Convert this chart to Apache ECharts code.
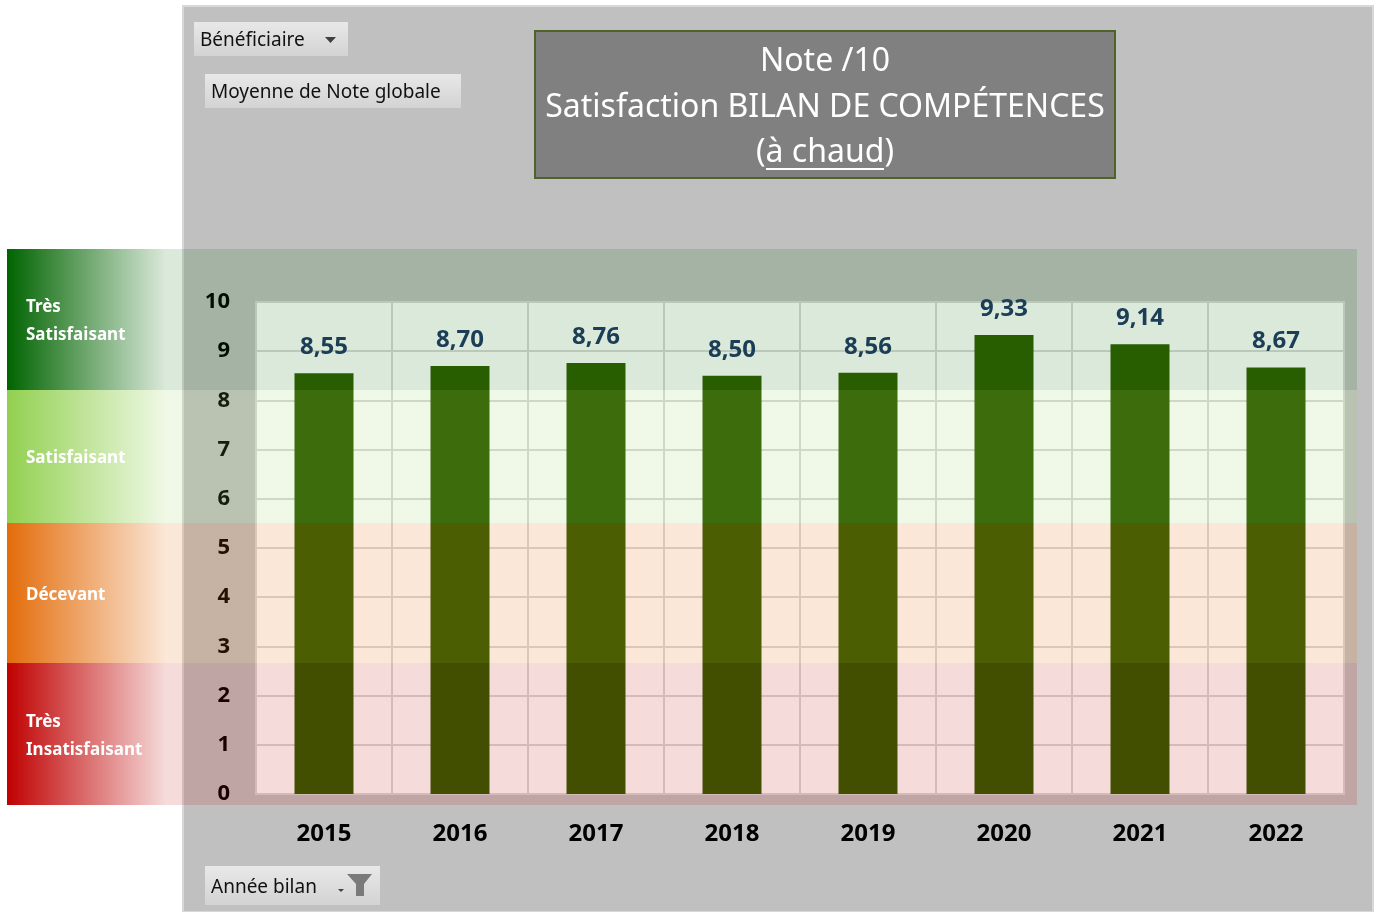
<!DOCTYPE html>
<html>
<head>
<meta charset="utf-8">
<script src="https://cdn.jsdelivr.net/npm/echarts@6/dist/echarts.min.js"></script>
<style>
  html, body { margin: 0; padding: 0; background: #fff; }
  #chart { width: 1381px; height: 912px; }
</style>
</head>
<body>
<div id="chart"></div>
<script>
// données
const years = ['2015', '2016', '2017', '2018', '2019', '2020', '2021', '2022'];
const notes = [8.55, 8.70, 8.76, 8.50, 8.56, 9.33, 9.14, 8.67];
const titleLines = ['Note /10', 'Satisfaction BILAN DE COMPÉTENCES', '(à chaud)'];
const bandLabels = [['Très', 'Satisfaisant'], ['Satisfaisant'], ['Décevant'], ['Très', 'Insatisfaisant']];

const FONT = '"Noto Sans", "DejaVu Sans", sans-serif';

// bandes de couleur (décor)
const bandStyle = [
  { y0: 249, y1: 390, rgb: '0,100,0', a: 0.14 },
  { y0: 390, y1: 523, rgb: '146,208,80', a: 0.14 },
  { y0: 523, y1: 663, rgb: '227,108,10', a: 0.16 },
  { y0: 663, y1: 805, rgb: '192,0,0', a: 0.14 }
];

const graphics = [];
// fond gris du graphique
graphics.push({
  type: 'rect', z: -10,
  shape: { x: 183, y: 6, width: 1190, height: 906 },
  style: { fill: '#c0c0c0', stroke: '#d8d8d8', lineWidth: 2 }
});

function button(x, y, w, h, label) {
  graphics.push({
    type: 'rect', z: 5,
    shape: { x, y, width: w, height: h },
    style: {
      fill: { type: 'linear', x: 0, y: 0, x2: 0, y2: 1,
        colorStops: [{ offset: 0, color: '#e8e8e8' }, { offset: 1, color: '#d3d3d3' }] }
    }
  });
  graphics.push({
    type: 'text', z: 6,
    style: { text: label, x: x + 6, y: y + h / 2 + 2, textVerticalAlign: 'middle',
      font: '19px ' + FONT, fill: '#111' }
  });
}
button(194, 22, 154, 34, 'Bénéficiaire');
graphics.push({ type: 'polygon', z: 6, shape: { points: [[325, 37], [336, 37], [330.5, 43]] }, style: { fill: '#404040' } });
button(205, 74, 256, 34, 'Moyenne de Note globale');
button(205, 866, 175, 39, 'Année bilan');
graphics.push({ type: 'polygon', z: 6, shape: { points: [[338, 889], [344, 889], [341, 892]] }, style: { fill: '#404040' } });
graphics.push({ type: 'polygon', z: 6,
  shape: { points: [[347, 874], [372, 874], [364, 884], [364, 896], [356, 896], [356, 884]] },
  style: { fill: '#7a7a7a' } });

// cadre du titre
graphics.push({
  type: 'rect', z: 5,
  shape: { x: 535, y: 31, width: 580, height: 147 },
  style: { fill: '#808080', stroke: '#4f6228', lineWidth: 2 }
});
titleLines.forEach((t, i) => {
  graphics.push({
    type: 'text', z: 6,
    style: { text: t, x: 825, y: 62 + i * 45.5, textAlign: 'center', textVerticalAlign: 'middle',
      font: '32px ' + FONT, fill: '#fff' }
  });
});
graphics.push({ type: 'line', z: 6, shape: { x1: 766, y1: 169, x2: 884, y2: 169 }, style: { stroke: '#fff', lineWidth: 2 } });

bandStyle.forEach((b, i) => {
  graphics.push({
    type: 'rect', z: 10, silent: true,
    shape: { x: 7, y: b.y0, width: 1350, height: b.y1 - b.y0 },
    style: {
      fill: { type: 'linear', x: 0, y: 0, x2: 1, y2: 0,
        colorStops: [
          { offset: 0, color: 'rgba(' + b.rgb + ',1)' },
          { offset: 0.118, color: 'rgba(' + b.rgb + ',' + b.a + ')' },
          { offset: 1, color: 'rgba(' + b.rgb + ',' + b.a + ')' }
        ] }
    }
  });
  const lines = bandLabels[i];
  const mid = (b.y0 + b.y1) / 2 + 2;
  lines.forEach((t, j) => {
    graphics.push({
      type: 'text', z: 20,
      style: { text: t, x: 26, y: mid + (j - (lines.length - 1) / 2) * 28, textVerticalAlign: 'middle',
        font: 'bold 17px ' + FONT, fill: '#fff',
        shadowColor: 'rgba(0,0,0,0.6)', shadowBlur: 4, shadowOffsetX: 1, shadowOffsetY: 2 }
    });
  });
});

const chart = echarts.init(document.getElementById('chart'), null, { renderer: 'canvas' });
chart.setOption({
  animation: false,
  backgroundColor: '#ffffff',
  grid: {
    left: 256, right: 37, top: 302, bottom: 118,
    show: true, backgroundColor: '#ffffff', borderColor: '#d9d9d9', borderWidth: 2
  },
  xAxis: {
    type: 'category', data: years,
    axisLine: { show: false }, axisTick: { show: false },
    splitLine: { show: true, interval: 0, lineStyle: { color: '#d9d9d9', width: 2 } },
    axisLabel: { color: '#000', fontFamily: FONT, fontWeight: 'bold', fontSize: 24, margin: 28 }
  },
  yAxis: {
    type: 'value', min: 0, max: 10, interval: 1,
    axisLine: { show: false }, axisTick: { show: false },
    splitLine: { show: true, lineStyle: { color: '#d9d9d9', width: 2 } },
    axisLabel: { color: '#000', fontFamily: FONT, fontWeight: 'bold', fontSize: 22, margin: 26,
      padding: [4, 0, 0, 0] }
  },
  series: [{
    type: 'bar', data: notes, barWidth: 59,
    itemStyle: { color: '#2e5c00' },
    label: {
      show: true, position: 'top', distance: 14,
      color: '#1f3864', fontFamily: FONT, fontWeight: 'bold', fontSize: 24,
      formatter: p => p.value.toFixed(2).replace('.', ',')
    }
  }],
  graphic: graphics
});
</script>
</body>
</html>
